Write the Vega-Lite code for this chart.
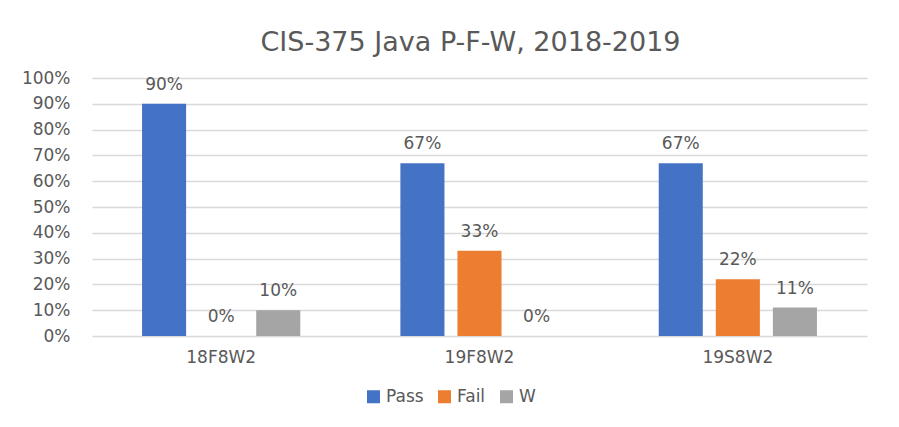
{
  "$schema": "https://vega.github.io/schema/vega-lite/v6.json",
  "width": 775,
  "height": 258,
  "autosize": {"type": "none"},
  "padding": {"left": 92, "top": 78, "right": 32, "bottom": 91},
  "background": "white",
  "config": {
    "view": {"stroke": null},
    "font": "DejaVu Sans"
  },
  "title": {
    "text": "CIS-375 Java P-F-W, 2018-2019",
    "font": "DejaVu Sans",
    "fontSize": 27,
    "fontWeight": "normal",
    "color": "#595959",
    "anchor": "middle",
    "frame": "group",
    "dx": -9,
    "offset": 12
  },
  "data": {
    "values": [
      {"term": "18F8W2", "result": "Pass", "pct": 0.90},
      {"term": "18F8W2", "result": "Fail", "pct": 0.0},
      {"term": "18F8W2", "result": "W", "pct": 0.10},
      {"term": "19F8W2", "result": "Pass", "pct": 0.67},
      {"term": "19F8W2", "result": "Fail", "pct": 0.33},
      {"term": "19F8W2", "result": "W", "pct": 0.0},
      {"term": "19S8W2", "result": "Pass", "pct": 0.67},
      {"term": "19S8W2", "result": "Fail", "pct": 0.22},
      {"term": "19S8W2", "result": "W", "pct": 0.11}
    ]
  },
  "encoding": {
    "x": {
      "field": "term",
      "type": "nominal",
      "sort": null,
      "title": null,
      "scale": {"paddingInner": 0, "paddingOuter": 0},
      "axis": {
        "labelAngle": 0,
        "labelFontSize": 17,
        "labelColor": "#595959",
        "labelPadding": 13,
        "domain": false,
        "ticks": false
      }
    },
    "xOffset": {
      "field": "result",
      "type": "nominal",
      "sort": ["Pass", "Fail", "W"],
      "scale": {"paddingInner": 0.228, "paddingOuter": 0.877}
    },
    "y": {
      "field": "pct",
      "type": "quantitative",
      "title": null,
      "scale": {"domain": [0, 1], "nice": false},
      "axis": {
        "values": [0, 0.1, 0.2, 0.3, 0.4, 0.5, 0.6, 0.7, 0.8, 0.9, 1.0],
        "format": ".0%",
        "labelFontSize": 17,
        "labelColor": "#595959",
        "labelPadding": 22,
        "domain": false,
        "ticks": false,
        "gridColor": "#D9D9D9",
        "gridWidth": 1.5
      }
    }
  },
  "layer": [
    {
      "mark": {"type": "bar"},
      "encoding": {
        "color": {
          "field": "result",
          "type": "nominal",
          "sort": ["Pass", "Fail", "W"],
          "title": null,
          "scale": {"domain": ["Pass", "Fail", "W"], "range": ["#4472C4", "#ED7D31", "#A5A5A5"]},
          "legend": {
            "orient": "none",
            "direction": "horizontal",
            "legendX": 273,
            "legendY": 310,
            "symbolType": "square",
            "symbolSize": 169,
            "symbolStrokeWidth": 0,
            "labelFontSize": 17,
            "labelColor": "#595959",
            "labelOffset": 4,
            "columnPadding": 12
          }
        }
      }
    },
    {
      "mark": {"type": "text", "baseline": "alphabetic", "dy": -14, "fontSize": 17, "color": "#595959"},
      "encoding": {
        "text": {"field": "pct", "type": "quantitative", "format": ".0%"}
      }
    }
  ]
}
